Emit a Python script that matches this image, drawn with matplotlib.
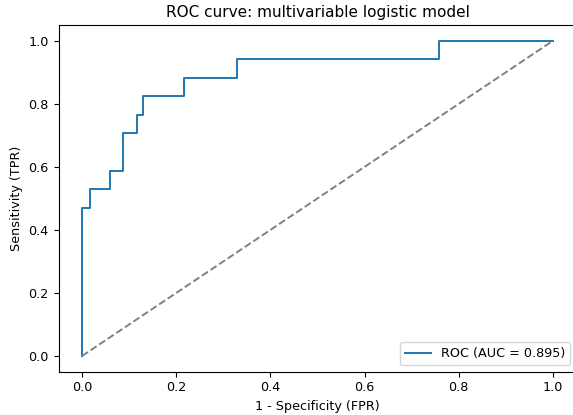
import matplotlib.pyplot as plt

# ROC step points
fpr = [0.0, 0.0, 0.016, 0.016, 0.060, 0.060, 0.087, 0.087, 0.117, 0.117,
       0.130, 0.130, 0.216, 0.216, 0.330, 0.330, 0.757, 0.757, 1.0]
tpr = [0.0, 0.470, 0.470, 0.529, 0.529, 0.588, 0.588, 0.706, 0.706, 0.765,
       0.765, 0.824, 0.824, 0.882, 0.882, 0.941, 0.941, 1.0, 1.0]
auc = 0.895

plt.rcParams['font.size'] = 9.2

fig = plt.figure(figsize=(5.73, 4.15), dpi=100)
# right spine falls just outside the canvas, as in the reference crop
ax = fig.add_axes([58.5 / 573, 43.25 / 415, 518 / 573, 346.75 / 415])

ax.plot(fpr, tpr, color='#1f77b4', linewidth=1.4, label=f'ROC (AUC = {auc:.3f})')
ax.plot([0, 1], [0, 1], color='gray', linestyle='--', linewidth=1.4)

ax.set_xlim(-0.05, 1.05)
ax.set_ylim(-0.05, 1.05)
ax.set_xlabel('1 - Specificity (FPR)')
ax.set_ylabel('Sensitivity (TPR)')
ax.set_title('ROC curve: multivariable logistic model', fontsize=11)
ax.legend(loc='lower right')

fig.savefig('out.png', dpi=100)
